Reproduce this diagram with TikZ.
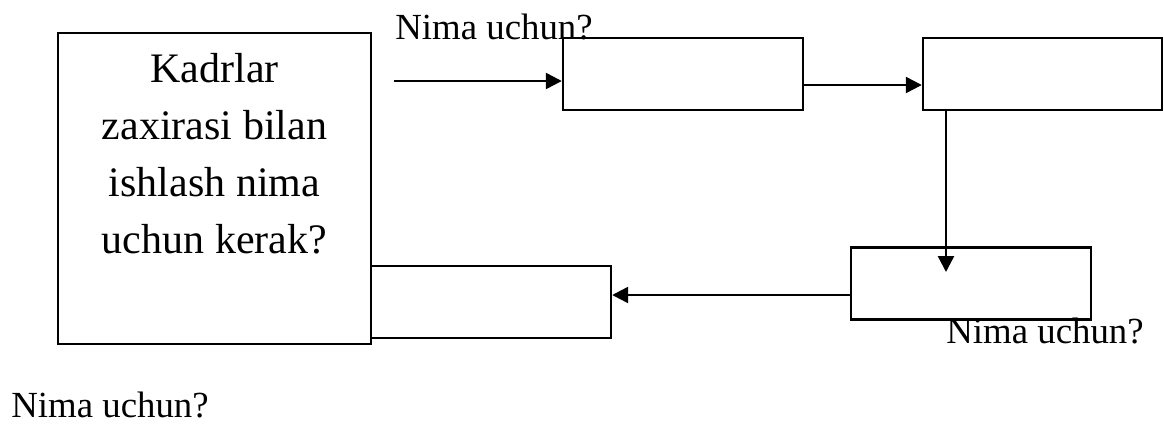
\documentclass[tikz,border=0pt]{standalone}
\usepackage{fontspec}
\setmainfont{Liberation Serif}
\usetikzlibrary{arrows.meta}
\begin{document}
\begin{tikzpicture}[x=0.5pt,y=-0.5pt,
  mainbox/.style={draw, line width=1.2pt, inner sep=0pt, minimum width=156.5pt, minimum height=155.5pt},
  blank/.style={draw, line width=1.2pt, inner sep=0pt, minimum width=120pt, minimum height=36pt},
  arr/.style={line width=1.2pt, -{Triangle[length=8pt,width=8pt]}},
  lbl/.style={font=\fontsize{18.4}{22}\selectfont, inner sep=0pt, anchor=base west},
]
\useasboundingbox (0,0) rectangle (1164,425);
\node[mainbox] (main) at (214.5,188.5) {};
\node[align=center, anchor=base, inner sep=0pt, font=\fontsize{21}{28.5}\selectfont] (maintext) at (214.5,253) {Kadrlar\\zaxirasi bilan\\ishlash nima\\uchun kerak?};
\node[blank] (b2) at (683,74) {};
\node[blank, minimum width=119.5pt] (b3) at (1042.5,74) {};
\node[blank] (b4) at (971,283.5) {};
\node[blank] (b5) at (491,302) {};
\coordinate (s1) at (394,81);
\draw[arr] (s1) -- (s1 -| b2.west);
\coordinate (r2) at (0,85);
\draw[arr] (b2.east |- r2) -- (b3.west |- r2);
\coordinate (t3) at (946,272);
\draw[arr] (t3 |- b3.south) -- (t3);
\coordinate (r4) at (0,295);
\draw[arr] (b4.west |- r4) -- (b5.east |- r4);
\node[lbl] (q1) at (395,39) {Nima uchun?};
\node[lbl] (q2) at (946,343) {Nima uchun?};
\node[lbl] (q3) at (11,417) {Nima uchun?};
\end{tikzpicture}
\end{document}
